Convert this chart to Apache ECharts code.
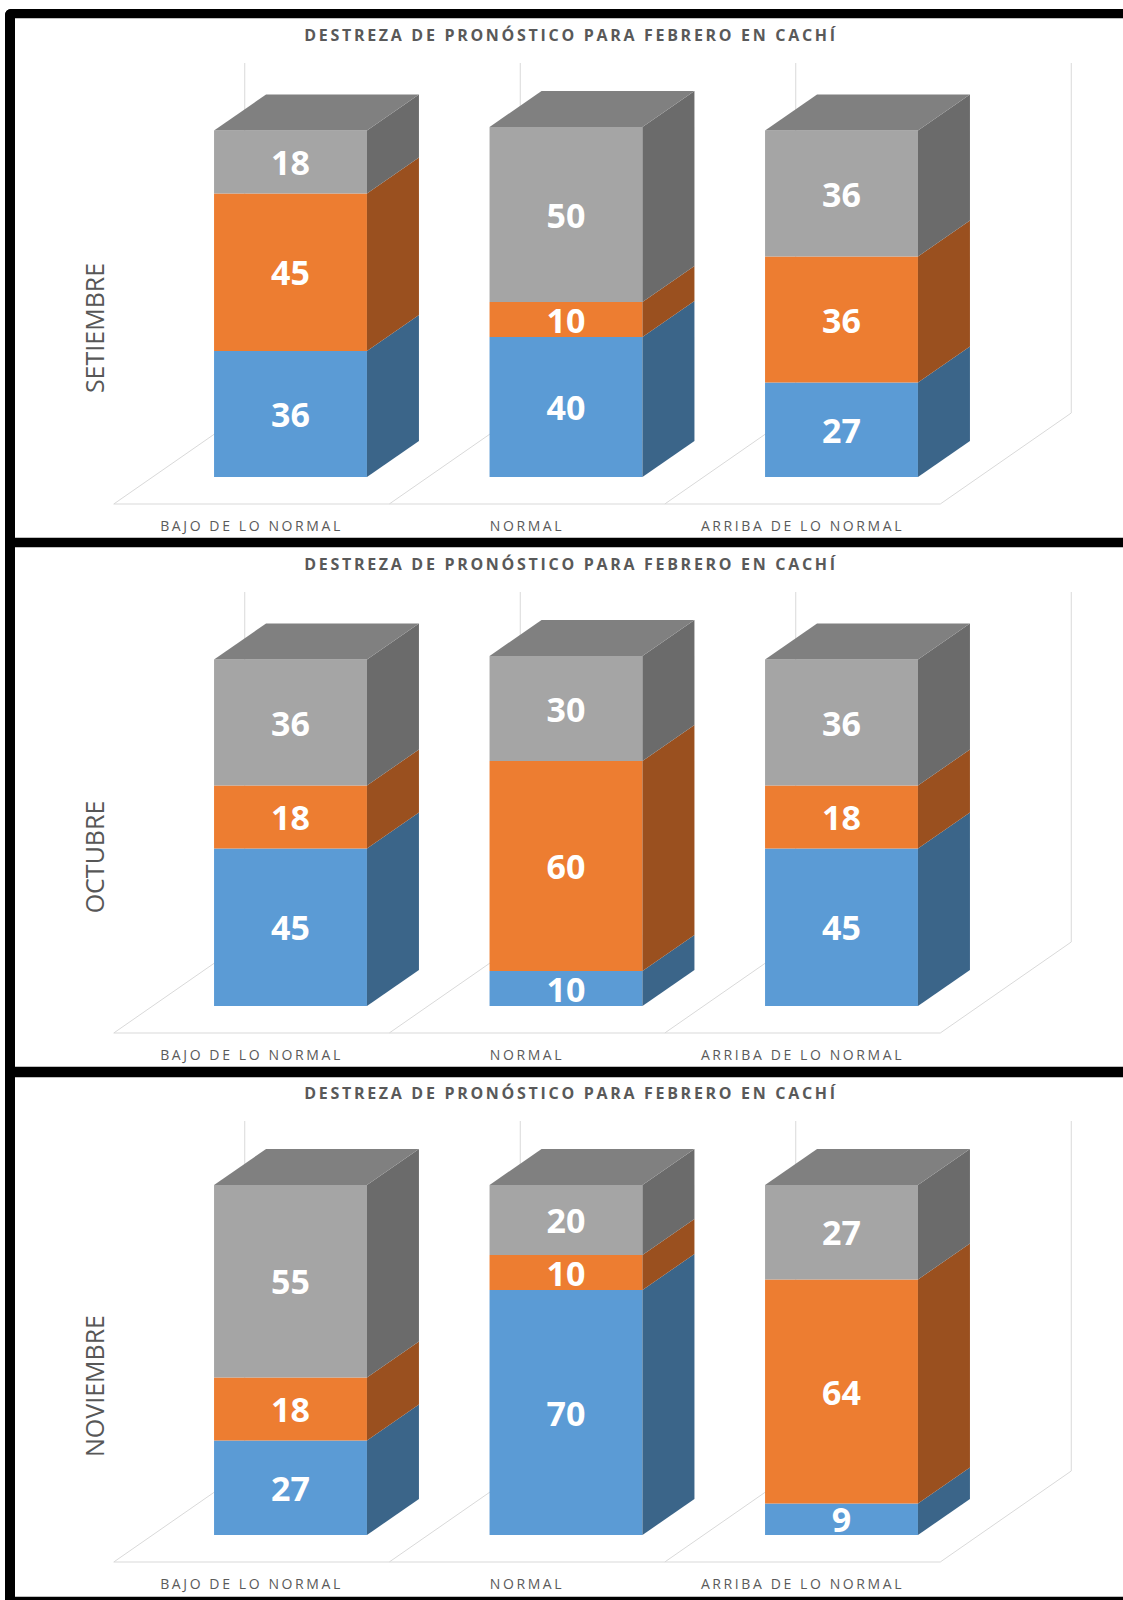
<!DOCTYPE html>
<html>
<head>
<meta charset="utf-8">
<title>Destreza de pronóstico para febrero en Cachí</title>
<script src="https://cdn.jsdelivr.net/npm/echarts@6/dist/echarts.min.js"></script>
<style>
  html, body { margin: 0; padding: 0; background: #ffffff; }
  #chart { width: 1123px; height: 1600px; }
  /* spaced-out caption lettering */
  #chart text[fill="#595959"] { letter-spacing: 2.7px; }
  #chart text[fill="#5a5a5a"] { letter-spacing: 2.6px; }
</style>
</head>
<body>
<div id="chart"></div>
<script>
// ---- data ----
const categories = ['BAJO DE LO NORMAL', 'NORMAL', 'ARRIBA DE LO NORMAL'];
const months = ['SETIEMBRE', 'OCTUBRE', 'NOVIEMBRE'];
const chartTitle = 'DESTREZA DE PRONÓSTICO PARA FEBRERO EN CACHÍ';

// stacked from the floor up: blue, orange, gray
const setiembreBlue   = [36, 40, 27];
const setiembreOrange = [45, 10, 36];
const setiembreGray   = [18, 50, 36];

const octubreBlue   = [45, 10, 45];
const octubreOrange = [18, 60, 18];
const octubreGray   = [36, 30, 36];

const noviembreBlue   = [27, 70, 9];
const noviembreOrange = [18, 10, 64];
const noviembreGray   = [55, 20, 27];

const valueMax = 100;

// ---- layout / style ----
const PANEL_STEP = 529;
const FRONT_LEFT = 152.75, FRONT_WIDTH = 826.5, FRONT_TOP = 127, FRONT_HEIGHT = 350;
const BAR_DEPTH = [52, -36];      // 3D box depth projection
const FLOOR_FRONT = [-39, 27];    // floor front edge relative to bar front plane
const WALL_BACK = [92, -64];      // back wall relative to bar front plane
const BAR_RATIO = 0.555;

const layerColors = [
  { front: '#5B9BD5', side: '#3B6589', top: '#4A7DAA' },
  { front: '#ED7D31', side: '#9A501F', top: '#C0652A' },
  { front: '#A5A5A5', side: '#6B6B6B', top: '#808080' }
];

const panels = [
  { month: months[0], layers: [setiembreBlue, setiembreOrange, setiembreGray] },
  { month: months[1], layers: [octubreBlue, octubreOrange, octubreGray] },
  { month: months[2], layers: [noviembreBlue, noviembreOrange, noviembreGray] }
];

function renderBox(params, api) {
  const cat = api.value(0), base = api.value(1), val = api.value(2);
  const layer = api.value(3), isTop = api.value(4);
  const bw = api.size([1, 0])[0] * BAR_RATIO;
  const pb = api.coord([cat, base]);
  const pt = api.coord([cat, base + val]);
  const x0 = pb[0] - bw / 2, x1 = pb[0] + bw / 2, yb = pb[1], yt = pt[1];
  const dx = BAR_DEPTH[0], dy = BAR_DEPTH[1];
  const col = layerColors[layer];
  const children = [
    { type: 'rect', shape: { x: x0, y: yt, width: bw, height: yb - yt }, style: { fill: col.front } },
    { type: 'polygon', shape: { points: [[x1, yb], [x1 + dx, yb + dy], [x1 + dx, yt + dy], [x1, yt]] }, style: { fill: col.side } }
  ];
  if (isTop) {
    children.push({ type: 'polygon', shape: { points: [[x0, yt], [x0 + dx, yt + dy], [x1 + dx, yt + dy], [x1, yt]] }, style: { fill: col.top } });
  }
  children.push({
    type: 'text', x: pb[0], y: (yb + yt) / 2,
    style: { text: String(val), fill: '#ffffff', font: 'bold 34px "Open Sans"', align: 'center', verticalAlign: 'middle' }
  });
  return { type: 'group', children };
}

function renderFrame(params, api) {
  const i = api.value(0);
  const c = api.coord([i, 0]);
  const bw = api.size([1, 0])[0];
  const yb = c[1];
  const yTop = api.coord([i, valueMax])[1];
  const stroke = { stroke: '#D9D9D9', lineWidth: 1, fill: null };
  const xl = c[0] - bw / 2, xr = c[0] + bw / 2;
  const children = [
    { type: 'line', shape: { x1: xl + FLOOR_FRONT[0], y1: yb + FLOOR_FRONT[1], x2: xr + FLOOR_FRONT[0], y2: yb + FLOOR_FRONT[1] }, style: stroke }
  ];
  const edges = [xl];
  if (i === categories.length - 1) edges.push(xr);
  edges.forEach(function (x) {
    children.push({ type: 'line', shape: { x1: x + FLOOR_FRONT[0], y1: yb + FLOOR_FRONT[1], x2: x + WALL_BACK[0], y2: yb + WALL_BACK[1] }, style: stroke });
    children.push({ type: 'line', shape: { x1: x + WALL_BACK[0], y1: yb + WALL_BACK[1], x2: x + WALL_BACK[0], y2: yTop + WALL_BACK[1] }, style: stroke });
  });
  children.push({
    type: 'text', x: c[0] + FLOOR_FRONT[0], y: yb + 48,
    style: { text: categories[i], fill: '#5a5a5a', font: '14px "Open Sans"', align: 'center', verticalAlign: 'middle' }
  });
  return { type: 'group', children };
}

const grids = [], xAxes = [], yAxes = [], series = [], graphics = [];

panels.forEach(function (panel, p) {
  grids.push({ left: FRONT_LEFT, top: FRONT_TOP + p * PANEL_STEP, width: FRONT_WIDTH, height: FRONT_HEIGHT });
  xAxes.push({ type: 'category', gridIndex: p, data: categories, show: false });
  yAxes.push({ type: 'value', gridIndex: p, min: 0, max: valueMax, show: false });

  series.push({
    type: 'custom', xAxisIndex: p, yAxisIndex: p, silent: true, z: 1,
    renderItem: renderFrame,
    data: categories.map(function (_, i) { return [i]; })
  });

  const boxes = [];
  categories.forEach(function (_, c) {
    let base = 0;
    panel.layers.forEach(function (arr, l) {
      boxes.push([c, base, arr[c], l, l === panel.layers.length - 1 ? 1 : 0]);
      base += arr[c];
    });
  });
  series.push({
    type: 'custom', xAxisIndex: p, yAxisIndex: p, z: 2,
    renderItem: renderBox,
    encode: { x: 0, y: [1, 2] },
    data: boxes
  });

  const off = p * PANEL_STEP;
  graphics.push({
    type: 'text', x: 571, y: 35 + off, z: 10,
    style: { text: chartTitle, fill: '#595959', font: 'bold 16px "Open Sans"', align: 'center', verticalAlign: 'middle' }
  });
  graphics.push({
    type: 'text', x: 94, y: 328 + off, rotation: Math.PI / 2, z: 10,
    style: { text: panel.month, fill: '#575757', font: '25px "Open Sans"', align: 'center', verticalAlign: 'middle' }
  });
});

// black frame around and between the three panels
const frame = [
  { x: 5, y: 9, width: 1118, height: 9, r: [6, 0, 0, 0] },
  { x: 5, y: 9, width: 10, height: 1591, r: [6, 0, 0, 0] },
  { x: 5, y: 538, width: 1118, height: 9 },
  { x: 5, y: 1067, width: 1118, height: 10 },
  { x: 5, y: 1597, width: 1118, height: 3 }
];
frame.forEach(function (s) {
  graphics.push({ type: 'rect', z: 20, shape: s, style: { fill: '#000000' } });
});
[18.5, 537.5, 547.5, 1066.5, 1077.5, 1596.5].forEach(function (y) {
  graphics.push({ type: 'line', z: 19, shape: { x1: 15, y1: y, x2: 1123, y2: y }, style: { stroke: '#BFBFBF', lineWidth: 1 } });
});

const chart = echarts.init(document.getElementById('chart'), null, { renderer: 'svg' });
chart.setOption({
  backgroundColor: '#ffffff',
  animation: false,
  grid: grids,
  xAxis: xAxes,
  yAxis: yAxes,
  series: series,
  graphic: { elements: graphics }
});
</script>
</body>
</html>
